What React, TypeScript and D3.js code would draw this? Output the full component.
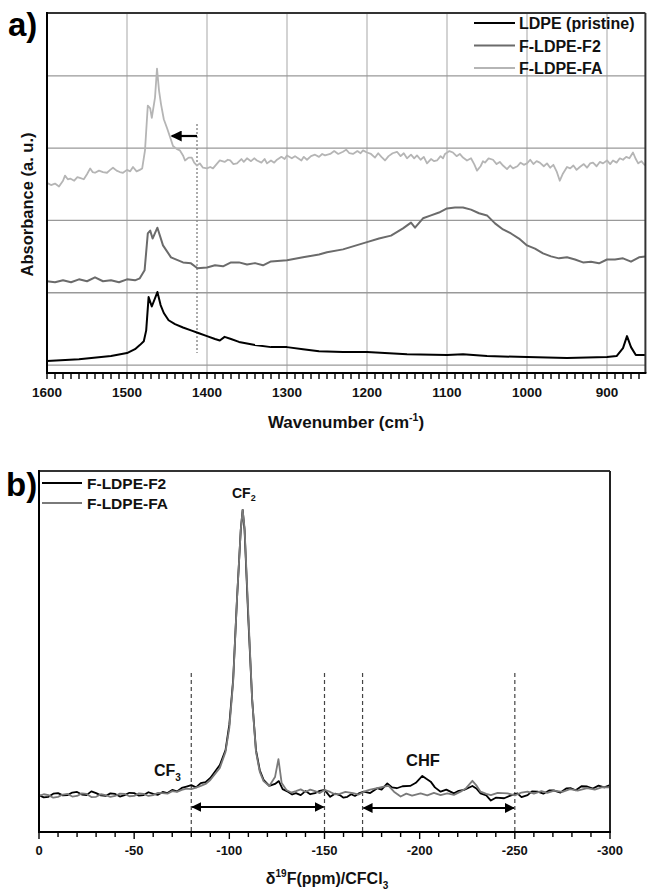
import React from "react";
import * as d3 from "d3";

// ---------- Panel a: FTIR ----------
const ldpeWn = [1600,1560,1520,1500,1490,1484,1479,1476,1473,1469,1462,1458,1454,1448,1440,1430,1420,1410,1400,1390,1384,1378,1370,1360,1340,1320,1300,1280,1260,1230,1200,1150,1100,1080,1050,1000,950,900,888,880,875,870,864,852];
const ldpeAbs = [0.1055,0.108,0.1124,0.1166,0.122,0.1276,0.133,0.148,0.194,0.181,0.201,0.183,0.172,0.162,0.1566,0.152,0.148,0.144,0.140,0.136,0.134,0.139,0.136,0.132,0.1276,0.1248,0.1248,0.122,0.119,0.118,0.118,0.115,0.1138,0.115,0.1124,0.111,0.1097,0.111,0.1124,0.1234,0.140,0.1248,0.1138,0.1138];

const f2Wn = [1600,1590,1580,1570,1560,1550,1540,1530,1520,1510,1500,1490,1484,1478,1474,1471,1468,1462,1455,1445,1430,1420,1412,1400,1390,1380,1370,1360,1350,1340,1330,1320,1300,1280,1260,1250,1230,1200,1185,1170,1155,1145,1140,1130,1120,1110,1100,1090,1080,1070,1060,1050,1040,1030,1020,1010,1000,990,980,970,960,950,940,930,920,910,900,890,880,870,860,852];
const f2Abs = [0.2159,0.2145,0.2172,0.2145,0.2186,0.2159,0.2214,0.2159,0.2172,0.2145,0.2186,0.2172,0.220,0.231,0.282,0.286,0.275,0.290,0.2655,0.249,0.242,0.2407,0.234,0.235,0.238,0.2366,0.242,0.242,0.239,0.241,0.238,0.2434,0.245,0.249,0.253,0.256,0.260,0.270,0.275,0.279,0.289,0.297,0.290,0.303,0.307,0.311,0.3166,0.318,0.318,0.315,0.310,0.307,0.296,0.2876,0.282,0.275,0.2655,0.261,0.2545,0.2503,0.2476,0.249,0.246,0.242,0.243,0.2407,0.246,0.246,0.2476,0.243,0.249,0.2503];

const faWn = [1600,1595,1590,1585,1580,1577.5,1574,1571,1566,1562,1559,1554,1550,1546,1543,1540,1535,1530,1525,1521,1517.5,1513,1509,1505,1500,1496,1492.5,1488,1484,1481,1477.5,1474,1471,1469,1465,1462.5,1460,1457.5,1454,1450,1446,1442.5,1438,1434,1430,1427.5,1423,1419,1416,1412.5,1409,1405,1400,1396,1392.5,1388,1384,1378,1374,1371,1367,1362.5,1357,1354,1350,1345,1341,1337.5,1332,1328,1325,1320,1316,1312.5,1307,1303,1300,1294,1290,1287.5,1282,1279,1275,1270,1265,1260,1256,1252.5,1246,1241,1236,1230,1226,1222,1217.5,1212,1208,1205,1200,1195,1190,1186,1182,1177.5,1173,1168,1162.5,1158,1154,1150,1145,1141,1137.5,1133,1129,1125,1120,1116,1112.5,1108,1105,1102.5,1097,1092.5,1088,1084,1080,1075,1070,1066,1062.5,1058,1055,1052.5,1048,1042.5,1038,1034,1030,1025,1021,1017.5,1012,1008,1004,1000,996,992,988,984,979,975,971,967,963,959,955,950,946,942,938,934,929,925,921,917.5,913,909,905,900,896,892.5,888,884,880,876,872,867.5,864,861,857,852.5];
const faAbs = [0.352,0.349,0.351,0.347,0.355,0.362,0.357,0.358,0.355,0.360,0.359,0.357,0.364,0.372,0.367,0.366,0.369,0.367,0.366,0.370,0.373,0.369,0.367,0.366,0.370,0.368,0.374,0.368,0.370,0.372,0.397,0.459,0.455,0.442,0.470,0.510,0.480,0.461,0.440,0.428,0.415,0.403,0.399,0.397,0.390,0.383,0.387,0.387,0.380,0.376,0.379,0.373,0.372,0.374,0.372,0.378,0.383,0.381,0.384,0.383,0.378,0.379,0.385,0.381,0.386,0.382,0.386,0.383,0.380,0.385,0.379,0.383,0.380,0.384,0.388,0.385,0.390,0.386,0.389,0.387,0.383,0.388,0.384,0.389,0.391,0.388,0.392,0.390,0.392,0.396,0.392,0.395,0.398,0.393,0.392,0.396,0.393,0.397,0.394,0.392,0.387,0.393,0.388,0.383,0.389,0.393,0.395,0.389,0.393,0.386,0.391,0.386,0.390,0.384,0.388,0.379,0.385,0.382,0.383,0.389,0.386,0.392,0.396,0.394,0.389,0.392,0.387,0.383,0.386,0.378,0.369,0.375,0.382,0.380,0.386,0.384,0.378,0.381,0.376,0.371,0.376,0.372,0.375,0.380,0.377,0.379,0.384,0.378,0.382,0.380,0.375,0.379,0.373,0.377,0.368,0.355,0.365,0.374,0.372,0.376,0.370,0.374,0.378,0.373,0.379,0.380,0.375,0.381,0.379,0.383,0.378,0.383,0.380,0.386,0.384,0.388,0.386,0.394,0.385,0.379,0.382,0.376];

const irSeriesNames = ["LDPE (pristine)", "F-LDPE-F2", "F-LDPE-FA"];
const irTicks = [1600,1500,1400,1300,1200,1100,1000,900];
const irGridY = [0.1,0.2,0.3,0.4,0.5];

// ---------- Panel b: 19F NMR ----------
const nmrF2Ppm = [0,-2.5,-5,-7.5,-10,-12.5,-15,-17.5,-20,-22.5,-25,-27.5,-30,-32.5,-35,-37.5,-40,-42.5,-45,-47.5,-50,-52.5,-55,-57.5,-60,-62.5,-65,-67.5,-70,-72.5,-75,-77.5,-80,-82.5,-85,-87.5,-90,-95,-98,-100,-102,-104,-106,-107,-108,-110,-112,-114,-116,-118,-121,-124,-126,-128,-131,-133,-135,-137.5,-140,-142.5,-145,-147.5,-150,-153,-155.5,-158,-160,-162,-164,-166,-168,-170.7,-174,-177.7,-180,-183,-185.5,-188,-191,-195,-198,-201.4,-203.5,-205.8,-208,-211,-214,-218,-220.5,-223.3,-227.7,-230,-232,-235,-237.4,-240,-244.4,-248,-251.4,-253.5,-256.7,-259,-262,-265,-268,-270.7,-274,-277,-279.5,-282,-285,-288,-291,-294,-297,-300];
const nmrF2Int = [0.3,-0.5,-0.3,0.8,1.0,0.2,0.3,1.2,1.4,0.5,0.3,1.6,1.0,0.2,0,0.9,0.7,-0.2,0.3,1.1,1.0,0.1,0.3,1.3,0.7,0.4,1.4,1.0,2.1,1.6,2.8,3.3,3.8,3.0,4.5,4.8,6.3,10.8,16,25,40.6,68.5,93,100,93,61.5,33.6,16,9,5.6,3.5,4.2,5.2,2.4,1.4,0.5,1.0,0.3,1.7,0.6,1.0,1.8,2.1,-0.3,0.8,0.3,-0.6,-0.3,0.6,0,0.9,1.5,1.0,2.7,2.2,4.4,3.0,2.7,3.4,3.5,4.6,7.0,6.0,5.0,3.0,1.5,2.2,0.9,1.8,2.1,3.5,2.5,0.9,0.2,-1.6,-0.6,-0.8,0.2,0.9,-0.4,0.3,1.6,1.5,0.8,1.9,1.9,1.2,2.6,2.7,2.0,3.4,3.3,2.6,3.6,3.0,3.8];

const nmrFAPpm = [0,-2.5,-5,-7.5,-10,-12.5,-15,-17.5,-20,-22.5,-25,-27.5,-30,-32.5,-35,-37.5,-40,-42.5,-45,-47.5,-50,-52.5,-55,-57.5,-60,-62.5,-65,-67.5,-70,-72.5,-75,-77.5,-80,-82.5,-85,-87.5,-90,-95,-98,-100,-102,-104,-106,-107,-108,-110,-112,-114,-116,-118,-121,-124,-125.8,-127.5,-130,-132.5,-135,-137.5,-140,-142.5,-145,-147.5,-150,-153,-155.5,-158,-161,-165,-168,-170.7,-174,-177.7,-180.5,-183.7,-186.5,-190,-193,-196,-200.5,-204,-207.5,-211,-214.5,-218,-221.5,-224.5,-227.7,-230,-232,-235,-237.4,-241,-246.2,-250,-253.5,-256.7,-260,-264,-267,-270.7,-275,-279,-283,-288,-292,-296,-300];
const nmrFAInt = [0,0.6,0.3,-0.6,-0.3,0.5,0.7,-0.2,0,0.9,0.7,-0.4,-0.3,0.6,0.3,-0.3,0,0.8,0.7,-0.1,0,0.9,0.7,0,0.3,1.1,1.0,0.8,1.7,1.4,2.1,2.6,2.4,2.9,3.5,4.2,5.6,9.8,15.4,23.8,39.9,68.5,93,100,93.7,63.3,33.6,15.4,8.4,5.2,3.5,6.6,12.9,4.5,2.1,1.2,1.7,2.3,1.4,2.2,1.7,1.0,2.1,1.4,0.6,0.7,1.4,1.0,0.5,1.5,2.2,2.7,3.2,3.5,1.5,-0.2,0.8,0.1,0.9,0.2,1.1,0.3,0.9,0.4,1.5,2.8,5.3,3.5,1.5,0.7,0.3,1.1,0.9,0.2,1.2,1.5,0.8,1.7,1.1,1.9,1.4,2.4,1.9,2.7,2.2,3.1,3.0];

const nmrSeriesNames = ["F-LDPE-F2", "F-LDPE-FA"];
const nmrTicks = [0,-50,-100,-150,-200,-250,-300];
const nmrDashed = [-80,-150,-170,-250];
const nmrRanges = [[-80,-150],[-170,-250]];

const FONT = "'Liberation Sans', Arial, sans-serif";

function zip(xs: number[], ys: number[]): [number, number][] {
  return xs.map((x, i) => [x, ys[i]]);
}

export default function App() {
  // panel a scales
  const ax = d3.scaleLinear().domain([1600, 852]).range([47, 645.4]);
  const ay = d3.scaleLinear().domain([0.089, 0.587]).range([373, 13]);
  const aLine = d3.line<[number, number]>().x(d => ax(d[0])).y(d => ay(d[1]));
  const aMinor = d3.range(1600, 851, -10);

  // panel b scales
  const bx = d3.scaleLinear().domain([0, -300]).range([39, 610]);
  const by = d3.scaleLinear().domain([-12.6, 113.6]).range([832, 471]);
  const bLine = d3.line<[number, number]>().x(d => bx(d[0])).y(d => by(d[1]));
  const bMinor = d3.range(0, -301, -10);

  const irColors = ["#000000", "#6b6b6b", "#b5b5b5"];
  const irData = [zip(ldpeWn, ldpeAbs), zip(f2Wn, f2Abs), zip(faWn, faAbs)];
  const nmrColors = ["#000000", "#7a7a7a"];
  const nmrData = [zip(nmrF2Ppm, nmrF2Int), zip(nmrFAPpm, nmrFAInt)];

  const arrowY = [807, 808];

  return (
    <svg width={647} height={892} style={{ position: "absolute", left: 0, top: 0, background: "#fff" }} fontFamily={FONT}>
      <defs>
        <marker id="ahead" viewBox="0 0 10 10" refX="9" refY="5" markerWidth="5" markerHeight="5" orient="auto-start-reverse" markerUnits="strokeWidth">
          <path d="M0,0 L10,5 L0,10 z" fill="#000" />
        </marker>
      </defs>
      {/* ===== Panel a ===== */}
      <rect x={47} y={13} width={645.4 - 47} height={360} fill="#fff" />
      {irTicks.slice(1).map(t => (
        <line key={"vg" + t} x1={ax(t)} x2={ax(t)} y1={13} y2={373} stroke="#c4c4c4" strokeWidth={1.5} />
      ))}
      {irGridY.map(v => (
        <line key={"hg" + v} x1={47} x2={645.4} y1={ay(v)} y2={ay(v)} stroke="#999" strokeWidth={1.3} />
      ))}
      <line x1={ax(1412.5)} x2={ax(1412.5)} y1={124} y2={353} stroke="#888" strokeWidth={1.4} strokeDasharray="2,2" />
      {irData.map((d, i) => (
        <path key={"ir" + i} d={aLine(d) || ""} fill="none" stroke={irColors[i]} strokeWidth={i === 2 ? 1.8 : 2} strokeLinejoin="round" />
      ))}
      <line x1={ax(1412.5)} x2={ax(1444)} y1={136} y2={136} stroke="#000" strokeWidth={2.2} markerEnd="url(#ahead)" />
      {/* frame */}
      <line x1={47} x2={645.4} y1={13} y2={13} stroke="#333" strokeWidth={2} />
      <line x1={645.4} x2={645.4} y1={13} y2={373} stroke="#333" strokeWidth={2} />
      <line x1={47} x2={47} y1={12} y2={374} stroke="#000" strokeWidth={2} />
      <line x1={46} x2={646.4} y1={373} y2={373} stroke="#000" strokeWidth={2} />
      {aMinor.map(t => (
        <line key={"at" + t} x1={ax(t)} x2={ax(t)} y1={373} y2={379} stroke="#000" strokeWidth={1.4} />
      ))}
      {irTicks.map(t => (
        <text key={"al" + t} x={ax(t)} y={397} textAnchor="middle" fontSize={13.5} fontWeight="bold" fill="#111">{t}</text>
      ))}
      <text x={346} y={428} textAnchor="middle" fontSize={17} fontWeight="bold" fill="#111">
        Wavenumber (cm<tspan fontSize={10.5} dy={-7}>-1</tspan><tspan dy={7}>)</tspan>
      </text>
      <text transform="translate(33,204.5) rotate(-90)" textAnchor="middle" fontSize={16.5} fontWeight="bold" fill="#111">Absorbance (a. u.)</text>
      <text x={8} y={36} fontSize={33} fontWeight="bold" fill="#000">a)</text>
      {irSeriesNames.map((n, i) => (
        <g key={"lga" + i}>
          <line x1={474} x2={515} y1={23 + i * 22.5} y2={23 + i * 22.5} stroke={irColors[i]} strokeWidth={2} />
          <text x={519} y={29 + i * 22.5} fontSize={16} fontWeight="bold" fill="#111">{n}</text>
        </g>
      ))}

      {/* ===== Panel b ===== */}
      {nmrDashed.map(v => (
        <line key={"bd" + v} x1={bx(v)} x2={bx(v)} y1={673} y2={832} stroke="#444" strokeWidth={1.2} strokeDasharray="4,3" />
      ))}
      {nmrData.map((d, i) => (
        <path key={"nmr" + i} d={bLine(d) || ""} fill="none" stroke={nmrColors[i]} strokeWidth={1.8} strokeLinejoin="round" />
      ))}
      {nmrRanges.map((r, i) => (
        <line key={"ar" + i} x1={bx(r[0]) + 1} x2={bx(r[1]) - 1} y1={arrowY[i]} y2={arrowY[i]} stroke="#000" strokeWidth={2}
          markerStart="url(#ahead)" markerEnd="url(#ahead)" />
      ))}
      <line x1={39} x2={610} y1={471} y2={471} stroke="#333" strokeWidth={2} />
      <line x1={610} x2={610} y1={471} y2={832} stroke="#222" strokeWidth={2} />
      <line x1={39} x2={39} y1={470} y2={833} stroke="#000" strokeWidth={2} />
      <line x1={38} x2={611} y1={832} y2={832} stroke="#000" strokeWidth={2} />
      {bMinor.map(t => (
        <line key={"bt" + t} x1={bx(t)} x2={bx(t)} y1={832} y2={t % 50 === 0 ? 839 : 837} stroke="#000" strokeWidth={1.4} />
      ))}
      {nmrTicks.map(t => (
        <text key={"bl" + t} x={bx(t)} y={855} textAnchor="middle" fontSize={13} fontWeight="bold" fill="#111">{t}</text>
      ))}
      <text x={327} y={884} textAnchor="middle" fontSize={16} fontWeight="bold" fill="#111">
        δ<tspan fontSize={10} dy={-7}>19</tspan><tspan dy={7}>F(ppm)/CFCl</tspan><tspan fontSize={10} dy={5}>3</tspan>
      </text>
      <text x={6} y={496} fontSize={33} fontWeight="bold" fill="#000">b)</text>
      {nmrSeriesNames.map((n, i) => (
        <g key={"lgb" + i}>
          <line x1={42} x2={82} y1={483 + i * 20} y2={483 + i * 20} stroke={nmrColors[i]} strokeWidth={2} />
          <text x={87} y={488.5 + i * 20} fontSize={15.5} fontWeight="bold" fill="#111">{n}</text>
        </g>
      ))}
      <text x={232} y={498} fontSize={14} fontWeight="bold" fill="#111">CF<tspan fontSize={9} dy={3}>2</tspan></text>
      <text x={154} y={776} fontSize={16} fontWeight="bold" fill="#111">CF<tspan fontSize={10} dy={5}>3</tspan></text>
      <text x={406} y={766} fontSize={16.5} fontWeight="bold" fill="#111">CHF</text>
    </svg>
  );
}
